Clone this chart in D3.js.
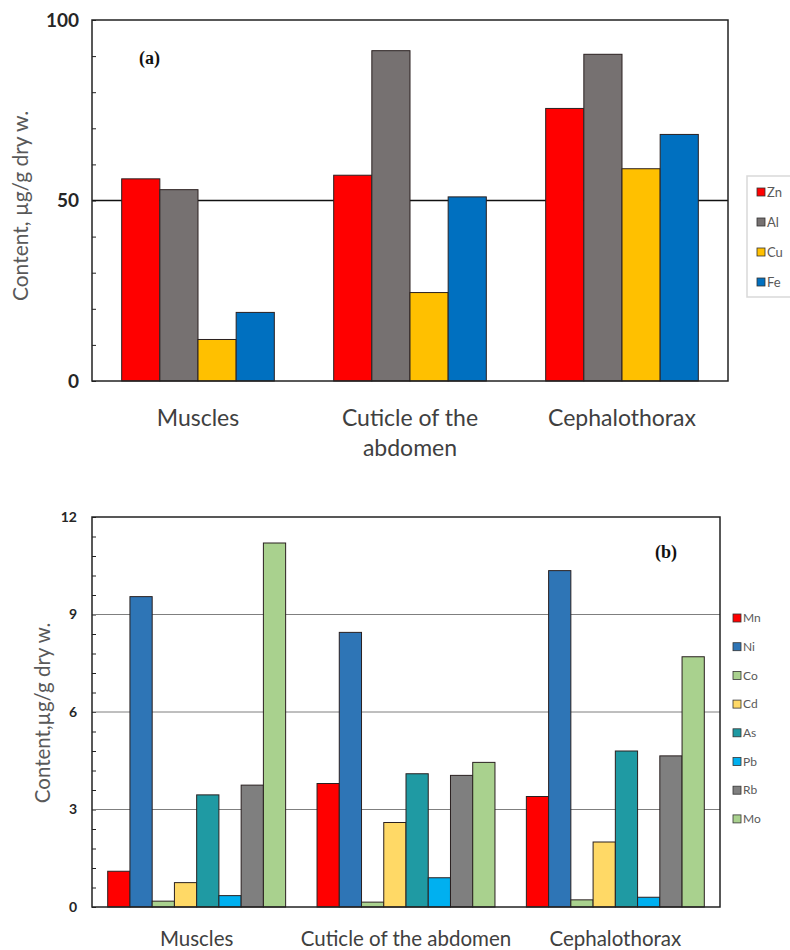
<!doctype html>
<html>
<head>
<script src="https://d3js.org/d3.v7.min.js"></script>
<style>
    body { margin: 0; background: #fff; }
    svg text { font-family: Lato, "Open Sans", sans-serif; }
    svg text.letter { font-family: "Liberation Serif", "DejaVu Serif", serif; }
</style>
</head>
<body>
<script>
    // panel (a): major elements
    let catsA = ["Muscles", "Cuticle of the\nabdomen", "Cephalothorax"];
    let seriesA = ["Zn", "Al", "Cu", "Fe"];
    let colorsA = ["#ff0000", "#767171", "#ffc000", "#0070c0"];
    let valuesA = [
        [56, 53, 11.5, 19],
        [57, 91.5, 24.5, 51],
        [75.5, 90.5, 58.8, 68.3]
    ];
    let ticksA = [0, 50, 100];

    // panel (b): trace elements
    let catsB = ["Muscles", "Cuticle of the abdomen", "Cephalothorax"];
    let seriesB = ["Mn", "Ni", "Co", "Cd", "As", "Pb", "Rb", "Mo"];
    let colorsB = ["#ff0000", "#2e75b6", "#a9d18e", "#ffd966", "#1f9aa3", "#00b0f0", "#7f7f7f", "#a9d18e"];
    let valuesB = [
        [1.1, 9.55, 0.18, 0.75, 3.45, 0.35, 3.75, 11.2],
        [3.8, 8.45, 0.15, 2.6, 4.1, 0.9, 4.05, 4.45],
        [3.4, 10.35, 0.22, 2.0, 4.8, 0.3, 4.65, 7.7]
    ];
    let ticksB = [0, 3, 6, 9, 12];

    let svg = d3.select("body").append("svg")
        .attr("width", 790)
        .attr("height", 950);

    function panel(o) {
        let g = svg.append("g");
        let x = d3.scaleBand().domain(d3.range(o.cats.length))
            .range([o.left, o.right]).paddingInner(o.pad).paddingOuter(o.pad / 2);
        let xs = d3.scaleBand().domain(o.series).range([0, x.bandwidth()]);
        let y = d3.scaleLinear().domain([0, o.max]).range([o.bottom, o.top]);

        // minor ticks, inward
        g.append("g")
            .attr("transform", "translate(" + o.left + ",0)")
            .call(d3.axisRight(y).tickValues(d3.range(0, o.max + 0.001, o.minor)).tickSize(4).tickFormat(""))
            .call(a => a.select(".domain").remove())
            .call(a => a.selectAll("line").attr("stroke", "#222"));

        // gridlines
        g.selectAll(".grid").data(o.grid).enter().append("line")
            .attr("x1", o.left).attr("x2", o.right)
            .attr("y1", d => y(d)).attr("y2", d => y(d))
            .attr("stroke", o.gridColor).attr("stroke-width", o.gridWidth);

        // bars
        let groups = g.selectAll(".grp").data(o.values).enter().append("g")
            .attr("transform", (d, i) => "translate(" + x(i) + ",0)");
        groups.selectAll("rect").data(d => d.map((v, j) => ({v: v, s: o.series[j], c: o.colors[j]})))
            .enter().append("rect")
            .attr("x", d => xs(d.s))
            .attr("width", xs.bandwidth())
            .attr("y", d => y(d.v))
            .attr("height", d => o.bottom - y(d.v))
            .attr("fill", d => d.c)
            .attr("stroke", "#2a2020")
            .attr("stroke-width", 1);

        // frame
        g.append("rect")
            .attr("x", o.left).attr("y", o.top)
            .attr("width", o.right - o.left).attr("height", o.bottom - o.top)
            .attr("fill", "none").attr("stroke", "#222").attr("stroke-width", 1.5);

        // y tick labels
        g.selectAll(".yl").data(o.ticks).enter().append("text")
            .attr("x", o.left - o.tickGap).attr("y", d => y(d))
            .attr("dy", "0.35em").attr("text-anchor", "end")
            .attr("font-weight", "bold").attr("font-size", o.tickSize).attr("fill", "#262626")
            .text(d => d);

        // y title
        g.append("text")
            .attr("transform", "translate(" + o.titleX + "," + o.titleY + ") rotate(-90)")
            .attr("text-anchor", "middle").attr("font-size", o.titleSize).attr("fill", "#595959")
            .text(o.title);

        // category labels
        g.selectAll(".cl").data(o.cats).enter().append("text")
            .attr("text-anchor", "middle").attr("font-size", o.catSize).attr("fill", "#404040")
            .attr("x", (d, i) => x(i) + x.bandwidth() / 2)
            .attr("y", o.catY)
            .each(function (d) {
                d.split("\n").forEach((t, k) => {
                    d3.select(this).append("tspan")
                        .attr("x", d3.select(this).attr("x"))
                        .attr("dy", k === 0 ? 0 : o.catLine)
                        .text(t);
                });
            });

        // panel letter
        g.append("text")
            .attr("class", "letter")
            .attr("x", o.letterX).attr("y", o.letterY)
            .attr("font-weight", "bold")
            .attr("font-size", 18).attr("fill", "#111")
            .text(o.letter);

        // legend
        let lg = g.append("g");
        if (o.legendBox) {
            lg.append("rect")
                .attr("x", o.legendBox[0]).attr("y", o.legendBox[1])
                .attr("width", o.legendBox[2]).attr("height", o.legendBox[3])
                .attr("fill", "#fff").attr("stroke", "#d9d9d9").attr("stroke-width", 1.5);
        }
        let items = lg.selectAll(".li").data(o.series).enter().append("g")
            .attr("transform", (d, i) => "translate(" + o.legendX + "," + (o.legendY + i * o.legendStep) + ")");
        items.append("rect")
            .attr("x", 0).attr("y", -4).attr("width", 8).attr("height", 8)
            .attr("fill", (d, i) => o.colors[i]).attr("stroke", "#333").attr("stroke-width", 0.8);
        items.append("text")
            .attr("x", 10).attr("y", 0).attr("dy", "0.35em")
            .attr("font-size", o.legendSize).attr("fill", "#595959")
            .text(d => d);
    }

    panel({
        cats: catsA, series: seriesA, colors: colorsA, values: valuesA, ticks: ticksA,
        left: 92, right: 728, top: 20, bottom: 381, max: 100, minor: 10, pad: 0.28,
        grid: [50], gridColor: "#111", gridWidth: 1.5,
        tickGap: 13, tickSize: 19, title: "Content, µg/g dry w.", titleX: 28, titleY: 206, titleSize: 21,
        catY: 426, catLine: 30, catSize: 23,
        letter: "(a)", letterX: 139, letterY: 64,
        legendBox: [747, 176, 50, 121], legendX: 757, legendY: 192, legendStep: 30, legendSize: 13
    });

    panel({
        cats: catsB, series: seriesB, colors: colorsB, values: valuesB, ticks: ticksB,
        left: 92, right: 720, top: 517, bottom: 907, max: 12, minor: 0.6, pad: 0.15,
        grid: [3, 6, 9], gridColor: "#7f7f7f", gridWidth: 1,
        tickGap: 15, tickSize: 14, title: "Content,µg/g dry w.", titleX: 50, titleY: 713, titleSize: 20.5,
        catY: 946, catLine: 0, catSize: 20.5,
        letter: "(b)", letterX: 655, letterY: 558,
        legendBox: null, legendX: 733, legendY: 618, legendStep: 28.7, legendSize: 12
    });
</script>
</body>
</html>
